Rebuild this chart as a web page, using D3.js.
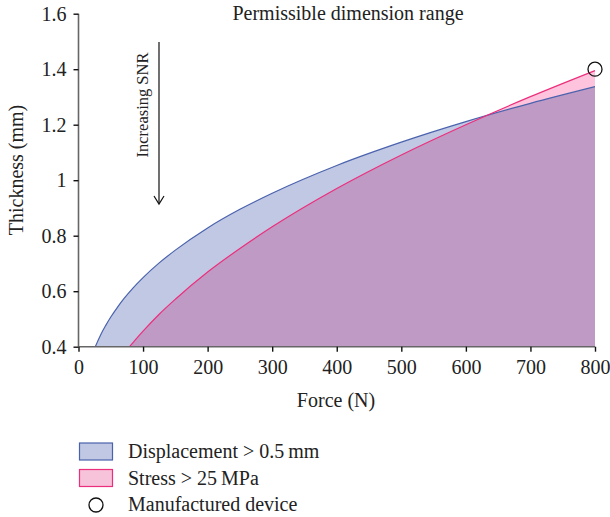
<!DOCTYPE html>
<html>
<head>
<meta charset="utf-8">
<script src="https://cdnjs.cloudflare.com/ajax/libs/d3/7.8.5/d3.min.js"></script>
<style>
    body { margin: 0; background: #fff; }
    text { font-family: "Liberation Serif", "DejaVu Serif", serif; fill: #222; }
</style>
</head>
<body>
<div id="chart"></div>
<script>
// values
const dispForce = [26, 30, 35, 42, 50, 60, 70, 85, 100, 125, 150, 200, 250, 300, 400, 500, 600, 700, 800]
const dispThick = [0.40, 0.421, 0.446, 0.476, 0.507, 0.541, 0.572, 0.613, 0.649, 0.702, 0.748, 0.828, 0.895, 0.953, 1.053, 1.137, 1.211, 1.277, 1.337]

const stressForce = [79, 90, 100, 125, 150, 200, 250, 300, 400, 500, 600, 700, 800]
const stressThick = [0.40, 0.430, 0.456, 0.517, 0.571, 0.669, 0.754, 0.832, 0.970, 1.091, 1.200, 1.301, 1.395]

const device = [800, 1.4]

const xTicks = [0, 100, 200, 300, 400, 500, 600, 700, 800]
const yTicks = [0.4, 0.6, 0.8, 1, 1.2, 1.4, 1.6]

const legendLabels = ["Displacement > 0.5\u2009mm", "Stress > 25\u2009MPa", "Manufactured device"]

var width = 610, height = 517

var svg = d3.select("#chart").append("svg")
    .attr("width", width)
    .attr("height", height)

var x = d3.scaleLinear().domain([0, 800]).range([78.5, 595])
var y = d3.scaleLinear().domain([0.4, 1.6]).range([346.7, 13.7])

var dispData = dispForce.map((f, i) => ({f: f, t: dispThick[i]}))
var stressData = stressForce.map((f, i) => ({f: f, t: stressThick[i]}))

var area = d3.area()
    .x(d => x(d.f))
    .y0(y(0.4))
    .y1(d => y(d.t))
    .curve(d3.curveMonotoneX)

var line = d3.line()
    .x(d => x(d.f))
    .y(d => y(d.t))
    .curve(d3.curveMonotoneX)

// areas
var areas = svg.append("g").style("isolation", "isolate")
areas.append("path")
    .datum(dispData)
    .attr("d", area)
    .attr("fill", "#c0c8e4")
areas.append("path")
    .datum(stressData)
    .attr("d", area)
    .attr("fill", "#fec4dd")
    .style("mix-blend-mode", "multiply")

svg.append("path")
    .datum(dispData)
    .attr("d", line)
    .attr("fill", "none")
    .attr("stroke", "#4a62ad")
    .attr("stroke-width", 1.2)

svg.append("path")
    .datum(stressData)
    .attr("d", line)
    .attr("fill", "none")
    .attr("stroke", "#ec2f7c")
    .attr("stroke-width", 1.2)

// axes
var xAxis = svg.append("g")
    .attr("transform", "translate(0," + y(0.4) + ")")
    .call(d3.axisBottom(x).tickValues(xTicks).tickSize(5).tickPadding(8).tickFormat(d3.format("d")))
var yAxis = svg.append("g")
    .attr("transform", "translate(" + x(0) + ",0)")
    .call(d3.axisLeft(y).tickValues(yTicks).tickSize(5).tickPadding(7).tickFormat(d => String(d)))

;[xAxis, yAxis].forEach(function(ax) {
    ax.select(".domain").attr("stroke", "#666").attr("stroke-width", 1.6)
    ax.selectAll(".tick line").attr("stroke", "#111").attr("stroke-width", 1.4)
    ax.selectAll(".tick text")
        .style("font-family", "Liberation Serif, serif")
        .style("font-size", "20px")
        .attr("fill", "#222")
})
xAxis.select(".domain").attr("d", "M" + x(0) + ",0H" + x(800))
yAxis.select(".domain").attr("d", "M0," + y(0.4) + "V" + y(1.6))

// device marker
svg.append("circle")
    .attr("cx", x(device[0]))
    .attr("cy", y(device[1]))
    .attr("r", 7)
    .attr("fill", "none")
    .attr("stroke", "#111")
    .attr("stroke-width", 1.3)

// titles
svg.append("text")
    .attr("x", 348)
    .attr("y", 20)
    .attr("text-anchor", "middle")
    .style("font-size", "20px")
    .text("Permissible dimension range")

svg.append("text")
    .attr("x", 336)
    .attr("y", 407)
    .attr("text-anchor", "middle")
    .style("font-size", "20px")
    .text("Force (N)")

svg.append("text")
    .attr("transform", "translate(23,170) rotate(-90)")
    .attr("text-anchor", "middle")
    .style("font-size", "20px")
    .text("Thickness (mm)")

// SNR arrow
svg.append("text")
    .attr("transform", "translate(147.5,105) rotate(-90)")
    .attr("text-anchor", "middle")
    .style("font-size", "16.5px")
    .text("Increasing SNR")

svg.append("line")
    .attr("x1", 159).attr("x2", 159)
    .attr("y1", 42).attr("y2", 203)
    .attr("stroke", "#111").attr("stroke-width", 1.2)
svg.append("path")
    .attr("d", "M154,196L159,204L164,196")
    .attr("fill", "none")
    .attr("stroke", "#111").attr("stroke-width", 1.2)

// legend
var legend = svg.append("g")
legend.append("rect")
    .attr("x", 79.5).attr("y", 443).attr("width", 33).attr("height", 17)
    .attr("fill", "#c0c8e4").attr("stroke", "#4a62ad").attr("stroke-width", 1.2)
legend.append("rect")
    .attr("x", 79.5).attr("y", 469.5).attr("width", 33).attr("height", 17)
    .attr("fill", "#f7c3db").attr("stroke", "#ec2f7c").attr("stroke-width", 1.2)
legend.append("circle")
    .attr("cx", 96).attr("cy", 505).attr("r", 7)
    .attr("fill", "none").attr("stroke", "#111").attr("stroke-width", 1.3)

legend.selectAll(".lbl")
    .data(legendLabels)
    .enter().append("text")
    .attr("class", "lbl")
    .attr("x", 128)
    .attr("y", (d, i) => 458 + i * 26.5)
    .style("font-size", "20px")
    .text(d => d)
</script>
</body>
</html>
